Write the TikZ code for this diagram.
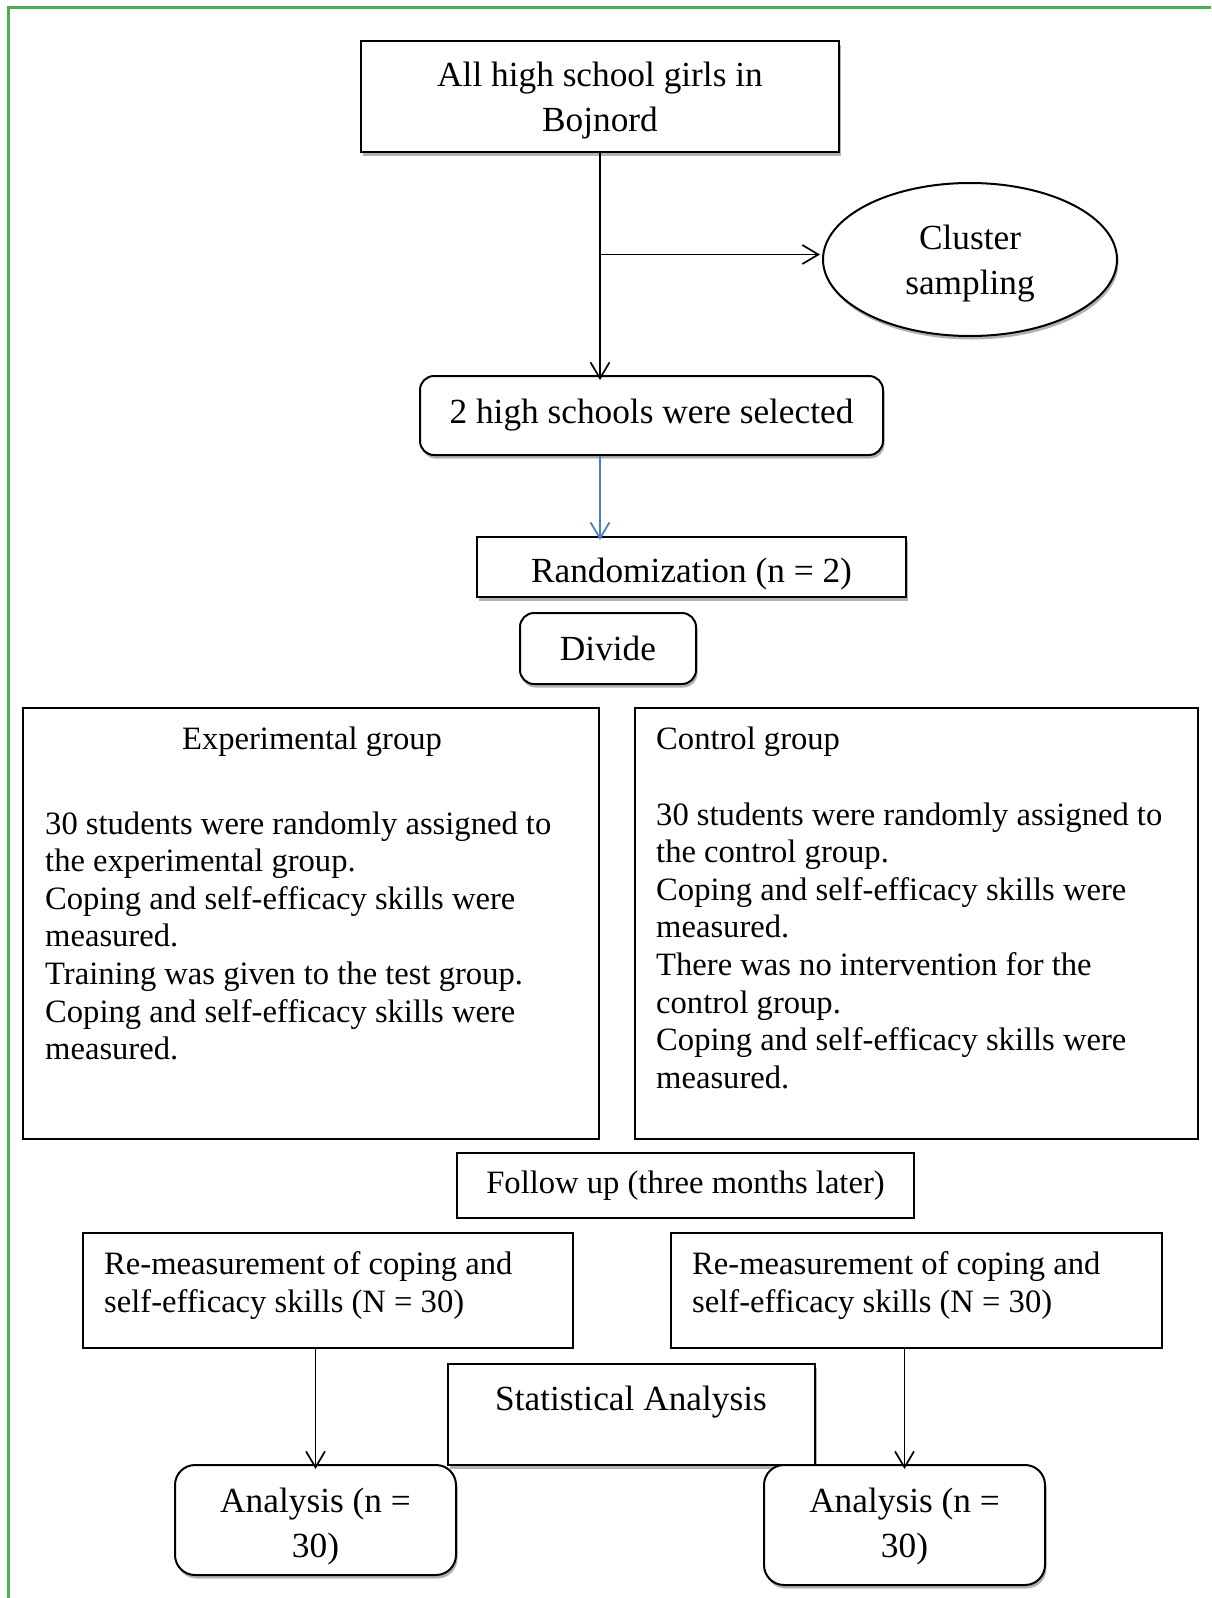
\documentclass[tikz,border=0pt]{standalone}
\usepackage{fontspec}
\setmainfont{Liberation Serif}
\usetikzlibrary{arrows.meta,shapes.geometric,shadows}
\definecolor{framegreen}{RGB}{76,175,80}
\definecolor{arrowblue}{RGB}{74,126,187}
\tikzset{
  bigtxt/.style={font=\fontsize{35.3}{45}\selectfont},
  smalltxt/.style={font=\fontsize{32.6}{37.6}\selectfont},
  shade/.style={drop shadow={shadow xshift=1.5pt, shadow yshift=-3.5pt, fill=gray!60, opacity=1}},
  box/.style={draw, line width=2pt, fill=white, inner sep=0pt, align=center},
  roundbox/.style={box, rounded corners=14pt},
  arr/.style={-{Straight Barb[length=16pt,width=19pt]}, line width=1.7pt}
}
\begin{document}
\begin{tikzpicture}[x=1pt,y=-1pt]
    \useasboundingbox (0,0) rectangle (1211,1598);
    % 绿色边框
    \draw[framegreen, line width=3pt] (8,1598) -- (8,7) -- (1211,7);
    % 上半部分
    \node[box, shade, bigtxt, text depth=0pt, minimum width=478pt, minimum height=111pt]
      (girls) at (600,96.5) {All high school girls in\\Bojnord};
    \node[ellipse, draw, line width=2pt, fill=white, shade, bigtxt, inner sep=0pt, text depth=0pt,
      minimum width=294pt, minimum height=153pt, align=center]
      (cluster) at (970,259.5) {Cluster\\sampling};
    \node[roundbox, shade, bigtxt, minimum width=463pt, minimum height=79pt]
      (selected) at (651.5,415.5) {2 high schools were selected};
    \node[box, shade, bigtxt, text height=30pt, text depth=0pt, minimum width=429pt, minimum height=60pt]
      (random) at (691.5,567) {Randomization (n = 2)};
    \node[roundbox, shade, bigtxt, minimum width=176pt, minimum height=71pt]
      (divide) at (608,648.5) {Divide};
    % 两组
    \node[box, minimum width=576pt, minimum height=431pt] (expgroup) at (311,923.5) {};
    \node[smalltxt, anchor=base] (exptitle) at (312,749) {Experimental group};
    \node[smalltxt, anchor=base west, align=left, inner sep=0pt] (expbody) at (45,1059.6)
      {30 students were randomly assigned to\\the experimental group.\\Coping and self-efficacy skills were\\measured.\\Training was given to the test group.\\Coping and self-efficacy skills were\\measured.};
    \node[box, minimum width=563pt, minimum height=431pt] (ctrlgroup) at (916.5,923.5) {};
    \node[smalltxt, anchor=base west, inner sep=0pt] (ctrltitle) at (656,749) {Control group};
    \node[smalltxt, anchor=base west, align=left, inner sep=0pt] (ctrlbody) at (656,1088.2)
      {30 students were randomly assigned to\\the control group.\\Coping and self-efficacy skills were\\measured.\\There was no intervention for the\\control group.\\Coping and self-efficacy skills were\\measured.};
    % 随访与分析
    \node[box, smalltxt, minimum width=457pt, minimum height=65pt]
      (followup) at (685.5,1185.5) {Follow up (three months later)};
    \node[box, minimum width=490pt, minimum height=115pt] (remleft) at (328,1290.5) {};
    \node[smalltxt, anchor=base west, align=left, inner sep=0pt] (remlefttxt) at (104,1312)
      {Re-measurement of coping and\\self-efficacy skills (N = 30)};
    \node[box, minimum width=491pt, minimum height=115pt] (remright) at (916.5,1290.5) {};
    \node[smalltxt, anchor=base west, align=left, inner sep=0pt] (remrighttxt) at (692,1312)
      {Re-measurement of coping and\\self-efficacy skills (N = 30)};
    \node[box, shade, minimum width=367pt, minimum height=101pt] (stat) at (631.5,1414.5) {};
    \node[bigtxt, anchor=base] (stattxt) at (631,1410) {Statistical Analysis};
    \node[roundbox, rounded corners=20pt, shade, bigtxt, text height=74pt, text depth=0pt, minimum width=281pt, minimum height=110pt]
      (analeft) at (315.5,1520) {Analysis (n =\\30)};
    \node[roundbox, rounded corners=20pt, shade, bigtxt, text depth=4pt, minimum width=281pt, minimum height=120pt]
      (anaright) at (904.5,1525) {Analysis (n =\\30)};
    % 箭头
    \coordinate (branchend) at ([xshift=-2pt, yshift=5pt] cluster.west);
    \draw[arr] (girls.south) -- ([yshift=-5pt] girls.south |- selected.north);
    \draw[arr] (girls.south |- branchend) -- (branchend);
    \draw[arr, arrowblue] (girls.south |- selected.south) -- ([yshift=-4pt] girls.south |- random.north);
    \draw[arr] (analeft.north |- remleft.south) -- ([yshift=-5pt] analeft.north);
    \draw[arr] (anaright.north |- remright.south) -- ([yshift=-5pt] anaright.north);
\end{tikzpicture}
\end{document}
